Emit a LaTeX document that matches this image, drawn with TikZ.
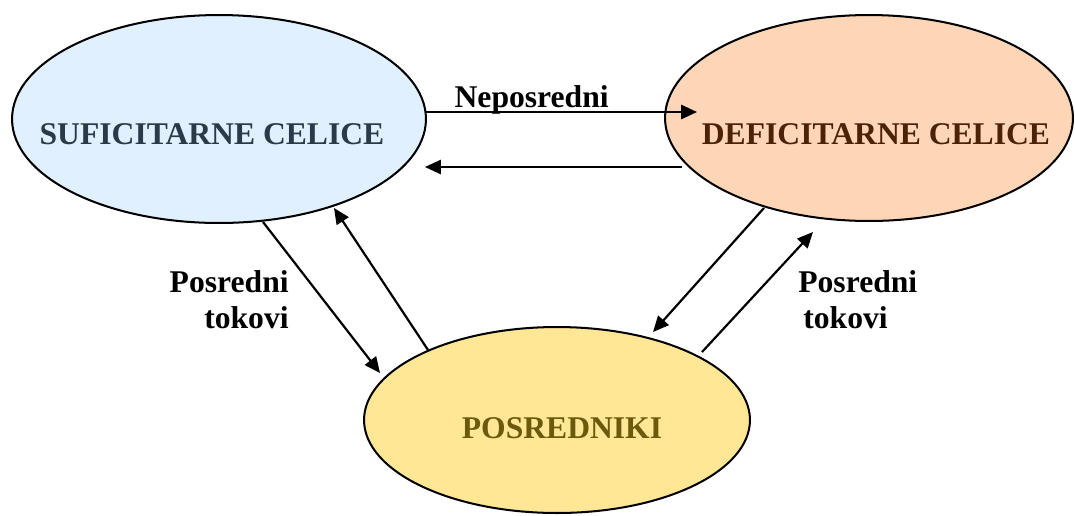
\documentclass[tikz,border=0pt]{standalone}
\usepackage{fontspec}
\setmainfont{Liberation Serif}
\usetikzlibrary{shapes.geometric,arrows.meta,calc}
\definecolor{sufFill}{HTML}{E1F0FF}
\definecolor{defFill}{HTML}{FDD5B7}
\definecolor{posFill}{HTML}{FFE796}
\definecolor{sufText}{HTML}{2B3A4B}
\definecolor{defText}{HTML}{4A2306}
\definecolor{posText}{HTML}{6B5A0B}
\begin{document}
\begin{tikzpicture}[x=0.02cm,y=-0.02cm,
  cell/.style={ellipse,draw=black,line width=1.15pt,inner sep=0pt,outer sep=0pt},
  celltext/.style={inner sep=0pt,font=\bfseries\fontsize{18}{20.5}\selectfont},
  flow/.style={line width=1.25pt,-{Triangle[length=9pt,width=8pt]}}]
\useasboundingbox (0,0) rectangle (1075,515);
% cells
\node[cell,fill=sufFill,minimum width=8.28cm,minimum height=4.16cm] (suf) at (219,119) {};
\node[cell,fill=defFill,minimum width=8.16cm,minimum height=4.12cm] (def) at (869,118) {};
\node[cell,fill=posFill,minimum width=7.72cm,minimum height=3.72cm] (pos) at (557,420) {};
\node[celltext,text=sufText] (sufT) at ($(suf.center)+(-7,15.5)$) {SUFICITARNE CELICE};
\node[celltext,text=defText] (defT) at ($(def.center)+(7,16)$) {DEFICITARNE CELICE};
\node[celltext,text=posText] (posT) at ($(pos.center)+(5,8)$) {POSREDNIKI};
% direct flows
\draw[flow] ($(suf.east)+(0,-7)$) -- ($(def.west)+(32,-6)$)
  node[celltext,pos=0.39,anchor=base,yshift=0.1cm] (nep) {Neposredni};
\draw[flow] ($(def.west)+(17,49)$) -- ($(suf.east)+(-1,48)$);
% indirect flows
\draw[flow] ($(suf.south)+(44,-1)$) -- ($(pos.west)+(16,-47)$);
\draw[flow] ($(pos.west)+(64,-70)$) -- ($(suf.south)+(115,-15)$);
\draw[flow] ($(def.south)+(-105,-13)$) -- ($(pos.north)+(96,5)$);
\draw[flow] ($(pos.north)+(145,25)$) -- ($(def.south)+(-56,11)$);
\node[celltext,align=right,anchor=east] (posL) at (289,300) {Posredni\\tokovi};
\node[celltext,align=left,anchor=west] (posR) at (798,300) {Posredni\\\hspace{0.1cm}tokovi};
\end{tikzpicture}
\end{document}
